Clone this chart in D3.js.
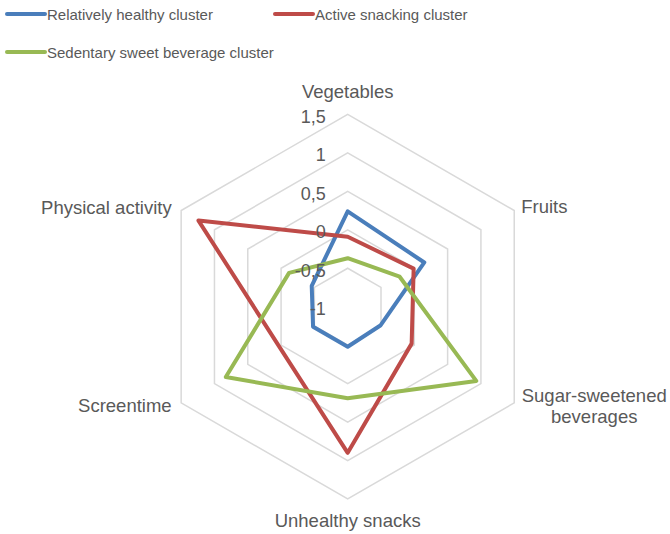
<!DOCTYPE html>
<html>
<head>
<meta charset="utf-8">
<script src="https://cdn.jsdelivr.net/npm/d3@7"></script>
<style>
  body { margin: 0; background: #fff; }
  text { font-family: "Liberation Sans", Arial, sans-serif; fill: #595959; }
</style>
</head>
<body>
<svg id="chart" width="670" height="534"></svg>
<script>
// axes of the radar, clockwise from the top
const categories = ["Vegetables", "Fruits", "Sugar-sweetened beverages", "Unhealthy snacks", "Screentime", "Physical activity"];
const ticks = [-1, -0.5, 0, 0.5, 1, 1.5];
const tickLabels = ["-1", "-0,5", "0", "0,5", "1", "1,5"];

const seriesNames = ["Relatively healthy cluster", "Active snacking cluster", "Sedentary sweet beverage cluster"];
const healthy = [0.24, 0.15, -0.51, -0.48, -0.48, -0.46];
const snacking = [-0.09, -0.01, -0.04, 0.90, 0.03, 1.24];
const sedentary = [-0.37, -0.22, 0.93, 0.19, 0.83, -0.12];
const colors = ["#4a7ebb", "#be4b48", "#98b954"];

let svg = d3.select("#chart");

let canvas = {"cx": 347.7, "cy": 306.7, "radius": 192.3};

let rScale = d3.scaleLinear()
  .domain([ticks[0], ticks[ticks.length - 1]])
  .range([0, canvas.radius]);

let angle = d3.scaleBand()
  .domain(categories)
  .range([0, 2 * Math.PI]);

function point(cat, v) {
  let a = angle(cat);
  let r = rScale(v);
  return [canvas.cx + r * Math.sin(a), canvas.cy - r * Math.cos(a)];
}

// grid hexagons (skip the centre)
let grid = svg.append("g");
grid.selectAll(".ring")
  .data(ticks.slice(1))
  .join("polygon")
  .attr("class", "ring")
  .attr("points", t => categories.map(c => point(c, t).join(",")).join(" "))
  .attr("fill", "none")
  .attr("stroke", "#d9d9d9")
  .attr("stroke-width", 1.5);

// series lines
let series = [healthy, snacking, sedentary];
let line = d3.line().curve(d3.curveLinearClosed);

svg.append("g").selectAll(".series")
  .data(series)
  .join("path")
  .attr("class", "series")
  .attr("d", vals => line(vals.map((v, i) => point(categories[i], v))))
  .attr("fill", "none")
  .attr("stroke", (d, i) => colors[i])
  .attr("stroke-width", 4)
  .attr("stroke-linejoin", "round");

// value labels along the top axis
svg.append("g").selectAll(".tick")
  .data(ticks)
  .join("text")
  .attr("class", "tick")
  .attr("x", canvas.cx - 22)
  .attr("y", t => point(categories[0], t)[1] + 8.5)
  .attr("text-anchor", "end")
  .attr("font-size", 18)
  .text((t, i) => tickLabels[i]);

// category labels
let catLabels = [
  {lines: ["Vegetables"], anchor: "middle", dx: 0, dy: -16},
  {lines: ["Fruits"], anchor: "start", dx: 7, dy: 2},
  {lines: ["Sugar-sweetened", "beverages"], anchor: "middle", dx: 80, dy: -1},
  {lines: ["Unhealthy snacks"], anchor: "middle", dx: 0, dy: 28},
  {lines: ["Screentime"], anchor: "end", dx: -9.5, dy: 9},
  {lines: ["Physical activity"], anchor: "end", dx: -9.5, dy: 3}
];

categories.forEach((c, i) => {
  let [x, y] = point(c, ticks[ticks.length - 1]);
  let lab = catLabels[i];
  let t = svg.append("text")
    .attr("x", x + lab.dx)
    .attr("y", y + lab.dy)
    .attr("text-anchor", lab.anchor)
    .attr("font-size", 18.5);
  lab.lines.forEach((l, j) => {
    t.append("tspan")
      .attr("x", x + lab.dx)
      .attr("dy", j == 0 ? 0 : 21)
      .text(l);
  });
});

// legend
let legendPos = [[7, 14], [275, 14], [7, 52]];
let legend = svg.append("g").selectAll(".legend")
  .data(seriesNames)
  .join("g")
  .attr("class", "legend")
  .attr("transform", (d, i) => `translate(${legendPos[i][0]}, ${legendPos[i][1]})`);

legend.append("line")
  .attr("x1", 0).attr("x2", 38)
  .attr("stroke", (d, i) => colors[i])
  .attr("stroke-width", 4)
  .attr("stroke-linecap", "round");

legend.append("text")
  .attr("x", 40)
  .attr("y", 6)
  .attr("font-size", 15)
  .text(d => d);
</script>
</body>
</html>
